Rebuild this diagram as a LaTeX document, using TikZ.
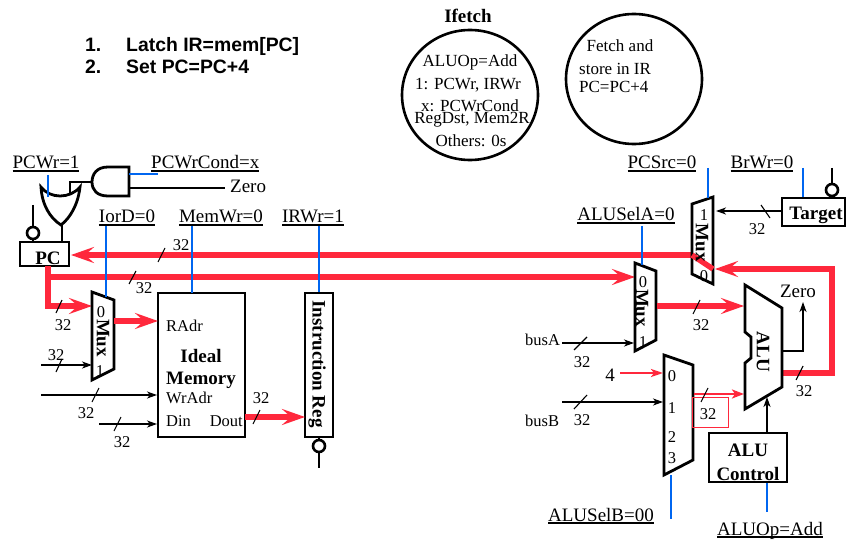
\documentclass[tikz,border=0pt]{standalone}
\usepackage{fontspec}
\setmainfont{Liberation Serif}
\newfontfamily\headfont{Liberation Sans}
\usetikzlibrary{arrows.meta}
\definecolor{sigred}{RGB}{255,40,60}
\definecolor{ctlblue}{RGB}{0,102,240}
\newcommand{\fs}[1]{\fontsize{#1}{#1}\selectfont}
\newcommand{\ulab}[1]{\leavevmode\setbox0\hbox{#1}\rlap{\raisebox{-3pt}{\rule{\wd0}{1.6pt}}}\box0}
\tikzset{
  part/.style={draw=black,line width=2.8pt,line join=miter,fill=white},
  partbox/.style={part,inner sep=0pt},
  wire/.style={draw=black,line width=2pt},
  wirearrow/.style={wire,-{Stealth[length=10pt,width=7pt,inset=3pt]}},
  thickwire/.style={draw=black,line width=2.8pt},
  redbus/.style={draw=sigred,line width=5.5pt,line join=miter},
  redarrow/.style={redbus,-{Stealth[length=23pt,width=16pt,inset=9pt]}},
  redthin/.style={draw=sigred,line width=2.2pt,-{Stealth[length=12pt,width=8pt,inset=3pt]}},
  ctl/.style={draw=ctlblue,line width=2.8pt},
  bubble/.style={circle,draw=black,line width=2.6pt,minimum size=12pt,inner sep=0pt,fill=white},
  tickmark/.style={draw=black,line width=1.1pt},
  lbl/.style={font=\fs{19},inner sep=0pt},
  bold/.style={font=\fs{19}\bfseries,inner sep=0pt},
  num/.style={font=\fs{16.5},inner sep=0pt},
  circ/.style={font=\fs{17},inner sep=0pt},
  headtxt/.style={font=\fs{19.4}\headfont\bfseries,inner sep=0pt,anchor=base west},
}
\begin{document}
\begin{tikzpicture}[x=1pt,y=-1pt]
\useasboundingbox[fill=white] (0,0) rectangle (846,540);
% top list
\node[headtxt] (l1a) at (85,52) {1.};
\node[headtxt] (l1b) at (126,52) {Latch IR=mem[PC]};
\node[headtxt] (l2a) at (85,74) {2.};
\node[headtxt] (l2b) at (126,74) {Set PC=PC+4};
% state circles
\node[bold,anchor=base] (ifetch) at (468,23) {Ifetch};
\draw[line width=2.6pt] (470,95) ellipse [x radius=68, y radius=65];
\draw[line width=2.6pt] (634,79) ellipse [x radius=68, y radius=65];
\node[circ,anchor=base] (s1) at (470,67) {ALUOp=Add};
\node[circ,anchor=base] (s2) at (468,90) {1: PCWr, IRWr};
\node[circ,anchor=base] (s3) at (470,112) {x: PCWrCond};
\node[circ,anchor=base] (s4) at (472,124) {RegDst, Mem2R};
\node[circ,anchor=base] (s5) at (471,147) {Others: 0s};
\node[circ,anchor=base] (f1) at (620,52) {Fetch and};
\node[circ,anchor=base west] (f2) at (579,75) {store in IR};
\node[circ,anchor=base west] (f3) at (579,93) {PC=PC+4};
% red buses
\coordinate (pcin) at (71,255);
\coordinate (srcjoin) at (692,255);
\coordinate (srcout) at (713,269);
\coordinate (muxa0) at (635,277);
\coordinate (pcbusS) at (46,277);
\coordinate (m10) at (92,306);
\coordinate (m1corner) at (48,306);
\coordinate (pcbot) at (48,266);
% PC box
\node[partbox,minimum width=49pt,minimum height=24pt] (pc) at (44.5,254) {};
\node[font=\fs{19}\bfseries,inner sep=0pt,anchor=base] (pct) at (48,265) {PC};
\draw[redarrow] (srcjoin) -- (pcin);
\draw[redarrow] (pcbusS) -- (muxa0);
\draw[redarrow] (pcbot) -- (m1corner) -- (m10);
% AND gate / OR gate
\draw[part] (129,167) -- (108,167) .. controls (97,167) and (92,174) .. (92,182) .. controls (92,190) and (97,196) .. (108,196) -- (129,196) -- cycle;
\draw[part] (41,187) .. controls (50,199) and (70,199) .. (80,187) .. controls (78,205) and (70,218) .. (61,225) .. controls (50,218) and (42,205) .. (41,187) -- cycle;
\coordinate (andin) at (92,182);
\coordinate (orin) at (70,193);
\coordinate (orout) at (62,225);
\coordinate (pcwrin) at (48,175);
\coordinate (orblue) at (48,197);
\draw[thickwire] (andin) -- (orin |- andin) -- (orin);
\draw[thickwire] (orout) -- (orout |- pc.north);
\draw[ctl] (pcwrin) -- (orblue);
\coordinate (andtop) at (129,174);
\coordinate (condend) at (158,174);
\coordinate (andbot) at (129,188);
\coordinate (zeroend) at (225,188);
\draw[ctl] (andtop) -- (condend);
\draw[thickwire] (andbot) -- (zeroend);
\node[lbl,anchor=base west] (zerol) at (230,193) {Zero};
\node[bubble] (pcclk) at (33,233) {};
\coordinate (pcclkend) at (33,205);
\draw[thickwire] (pcclkend) -- (pcclk);
\draw[thickwire] (pcclk) -- (33,242);
% control labels
\node[lbl,anchor=base] (a1) at (46,169) {\ulab{PCWr=1}};
\node[lbl,anchor=base west] (a2) at (151,169) {\ulab{PCWrCond=x}};
\node[lbl,anchor=base] (a3) at (127,223) {\ulab{IorD=0}};
\node[lbl,anchor=base] (a4) at (221,223) {\ulab{MemWr=0}};
\node[lbl,anchor=base] (a5) at (313,223) {\ulab{IRWr=1}};
\node[lbl,anchor=base] (a6) at (662,169) {\ulab{PCSrc=0}};
\node[lbl,anchor=base] (a7) at (762,169) {\ulab{BrWr=0}};
\node[lbl,anchor=base] (a8) at (626,221) {\ulab{ALUSelA=0}};
\node[lbl,anchor=base] (a9) at (601,521) {\ulab{ALUSelB=00}};
\node[lbl,anchor=base] (a10) at (770,535) {\ulab{ALUOp=Add}};
% memory mux
\draw[part] (92,292) -- (114,300) -- (114,369) -- (92,380) -- cycle;
\coordinate (m1top) at (106,297);
\coordinate (m1ctl) at (106,226);
\draw[ctl] (m1ctl) -- (m1top);
\node[num] (m1n0) at (101,312) {0};
\node[num] (m1n1) at (100,371) {1};
\node[bold,rotate=-90] (m1t) at (103,338) {Mux};
% ideal memory
\node[partbox,minimum width=87pt,minimum height=144pt] (mem) at (201.5,365) {};
\node[num,anchor=base west] (radr) at (166,331) {RAdr};
\node[bold] (ideal) at (201,356) {Ideal};
\node[bold] (memt) at (201,380) {Memory};
\node[num,anchor=base west] (wradr) at (166,403) {WrAdr};
\node[num,anchor=base west] (din) at (166,426) {Din};
\node[num,anchor=base east] (dout) at (243,426) {Dout};
\coordinate (memctl) at (192,226);
\draw[ctl] (memctl) -- (192,293);
\coordinate (m1out) at (114,321);
\coordinate (radrin) at (158,321);
\draw[redarrow] (m1out) -- (radrin);
\coordinate (w1) at (41,365); \coordinate (w1e) at (92,365);
\draw[wirearrow] (w1) -- (w1e);
\coordinate (w2) at (41,395); \coordinate (w2e) at (157,395);
\draw[wirearrow] (w2) -- (w2e);
\coordinate (w3) at (99,424); \coordinate (w3e) at (157,424);
\draw[wirearrow] (w3) -- (w3e);
% instruction reg
\node[partbox,minimum width=28pt,minimum height=144pt] (ir) at (319,365) {};
\node[bold,rotate=-90] (irt) at (317,364) {Instruction Reg};
\coordinate (irctl) at (319,226);
\draw[ctl] (irctl) -- (ir.north);
\coordinate (doutp) at (245,417); \coordinate (irin) at (305,417);
\draw[redarrow] (doutp) -- (irin);
\node[bubble] (irclk) at (319,446) {};
\coordinate (irclke) at (319,468);
\draw[thickwire] (ir.south) -- (irclk);
\draw[thickwire] (irclk) -- (irclke);
% PC source mux
\draw[part] (692,204) -- (713,197) -- (713,284) -- (692,274) -- cycle;
\draw[redbus] (692,255) -- (srcout);
\node[num] (sm1) at (704,215) {1};
\node[num] (sm0) at (704,276) {0};
\node[bold,rotate=-90] (smt) at (702,243) {Mux};
\coordinate (srcctl) at (708,168); \coordinate (srctop) at (708,198);
\draw[ctl] (srcctl) -- (srctop);
% target
\node[partbox,minimum width=63pt,minimum height=28pt] (target) at (813.5,212) {};
\node[bold,font=\fs{19}\bfseries] (targett) at (816,215.5) {Target};
\coordinate (brctl) at (803,168);
\draw[ctl] (brctl) -- (brctl |- target.north);
\node[bubble] (tclk) at (832,190) {};
\coordinate (tclke) at (832,168);
\draw[thickwire] (tclke) -- (tclk);
\draw[thickwire] (tclk) -- (832,198);
\coordinate (srcin1) at (716,211);
\draw[wirearrow] (target.west |- srcin1) -- (srcin1);
% ALU out bus
\coordinate (aluout) at (782,373); \coordinate (rc1) at (832,373); \coordinate (rc2) at (832,269); \coordinate (srcin0) at (715,269);
\draw[redarrow] (aluout) -- (rc1) -- (rc2) -- (srcin0);
% mux A
\draw[part] (635,263) -- (656,271) -- (656,340) -- (635,351) -- cycle;
\coordinate (actl) at (642,226); \coordinate (atop) at (642,265);
\draw[ctl] (actl) -- (atop);
\node[num] (an0) at (643,282) {0};
\node[num] (an1) at (643,342) {1};
\node[bold,rotate=-90] (at) at (642,308) {Mux};
\coordinate (aout) at (657,306); \coordinate (aluA) at (744,306);
\draw[redarrow] (aout) -- (aluA);
\coordinate (busa) at (562,343); \coordinate (busae) at (634,343);
\draw[wirearrow] (busa) -- (busae);
\node[num,anchor=base west] (busal) at (525,345) {busA};
% mux B
\draw[part] (664,355) -- (693,365) -- (693,460) -- (664,475) -- cycle;
\node[num] (b0) at (672,376) {0};
\node[num] (b1) at (672,408) {1};
\node[num] (b2) at (672,437) {2};
\node[num] (b3) at (672,458) {3};
\coordinate (bctl) at (671,475); \coordinate (bctle) at (671,519);
\draw[ctl] (bctl) -- (bctle);
\coordinate (four) at (620,373); \coordinate (foure) at (663,373);
\draw[redthin] (four) -- (foure);
\node[font=\fs{19},inner sep=0pt] (fourl) at (610,375) {4};
\coordinate (busb) at (562,402); \coordinate (busbe) at (663,402);
\draw[wirearrow] (busb) -- (busbe);
\node[num,anchor=base west] (busbl) at (525,426) {busB};
\coordinate (bout) at (694,394); \coordinate (aluB) at (744,394);
\draw[draw=sigred,line width=2.8pt,-{Stealth[length=12pt,width=9pt,inset=3pt]}] (bout) -- (aluB);
\node[draw=sigred,line width=.8pt,minimum width=36pt,minimum height=30pt,inner sep=0pt] (redbox) at (710,412) {};
\node[num] (redn) at (708,414) {32};
% ALU
\draw[part] (745,285) -- (782,308) -- (782,387) -- (745,409) -- (745,363) -- (751,358) -- (751,337) -- (745,332) -- cycle;
\node[bold,rotate=-90] (alut) at (763,352) {ALU};
\coordinate (zs) at (782,351); \coordinate (zc) at (803,351); \coordinate (ze) at (803,302);
\draw[wirearrow] (zs) -- (zc) -- (ze);
\node[lbl] (zerot) at (798,291) {Zero};
% ALU control
\node[partbox,minimum width=78pt,minimum height=49pt] (aluc) at (748,457.5) {};
\node[bold] (ac1) at (748,450) {ALU};
\node[bold] (ac2) at (748,474) {Control};
\coordinate (acin) at (767,397);
\draw[wirearrow] (aluc.north -| acin) -- (acin);
\coordinate (acctl) at (767,512);
\draw[ctl] (aluc.south -| acctl) -- (acctl);
% ticks and widths
\draw[tickmark] (165,248) -- (158,262);
\draw[tickmark] (136,271) -- (129,284);
\draw[tickmark] (62,300) -- (56,313);
\draw[tickmark] (62,359) -- (56,372);
\draw[tickmark] (99,388) -- (92,402);
\draw[tickmark] (121,417) -- (114,431);
\draw[tickmark] (260,410) -- (253,424);
\draw[tickmark] (761,205) -- (770,218);
\draw[tickmark] (700,300) -- (693,314);
\draw[tickmark] (587,337) -- (574,350);
\draw[tickmark] (587,395) -- (574,409);
\draw[tickmark] (708,388) -- (701,402);
\draw[tickmark] (803,366) -- (796,380);
\node[num] (n1) at (181,245) {32};
\node[num] (n2) at (144,288) {32};
\node[num] (n3) at (63,325) {32};
\node[num] (n4) at (56,355) {32};
\node[num] (n5) at (86,413) {32};
\node[num] (n6) at (122,442) {32};
\node[num] (n7) at (261,398) {32};
\node[num] (n8) at (757,229) {32};
\node[num] (n9) at (701,325) {32};
\node[num] (n10) at (582,362) {32};
\node[num] (n11) at (582,420) {32};
\node[num] (n12) at (804,391) {32};
\end{tikzpicture}
\end{document}
